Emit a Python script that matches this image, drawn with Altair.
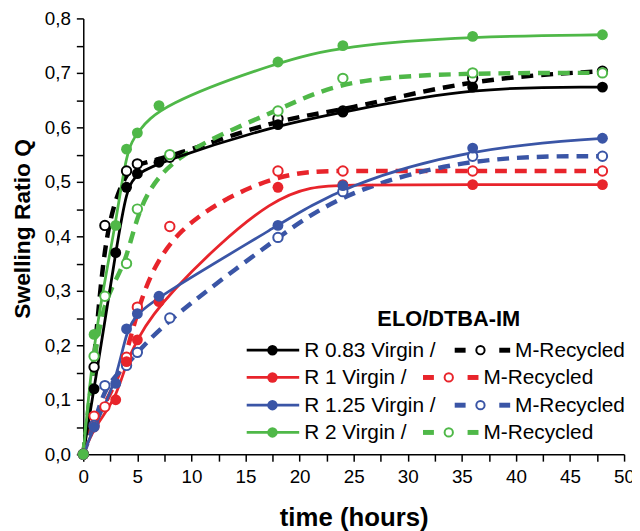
import altair as alt
import pandas as pd

# ---- data ----
t_virgin = [0, 1, 3, 4, 5, 7, 18, 24, 36, 48]
t_recycled = [0, 1, 2, 4, 5, 8, 18, 24, 36, 48]

series = ["R 0.83", "R 1", "R 1.25", "R 2"]
colors = ["#000000", "#E8242B", "#3A55A6", "#4FB848"]

q_virgin_083 = [0, 0.12, 0.37, 0.49, 0.515, 0.536, 0.605, 0.628, 0.674, 0.674]
q_virgin_1 = [0, 0.05, 0.10, 0.17, 0.21, 0.28, 0.49, 0.495, 0.495, 0.495]
q_virgin_125 = [0, 0.05, 0.13, 0.23, 0.258, 0.29, 0.42, 0.493, 0.562, 0.58]
q_virgin_2 = [0, 0.22, 0.42, 0.56, 0.59, 0.64, 0.72, 0.75, 0.767, 0.77]

q_recycled_083 = [0, 0.16, 0.42, 0.52, 0.533, 0.545, 0.616, 0.63, 0.69, 0.703]
q_recycled_1 = [0, 0.07, 0.087, 0.178, 0.27, 0.418, 0.52, 0.52, 0.52, 0.52]
q_recycled_125 = [0, 0.053, 0.126, 0.163, 0.187, 0.25, 0.398, 0.482, 0.547, 0.547]
q_recycled_2 = [0, 0.18, 0.29, 0.35, 0.45, 0.55, 0.63, 0.69, 0.70, 0.70]

x_ticks = [i * 2.5 for i in range(21)]
y_ticks = [round(i * 0.05, 2) for i in range(17)]

virgin = [q_virgin_083, q_virgin_1, q_virgin_125, q_virgin_2]
recycled = [q_recycled_083, q_recycled_1, q_recycled_125, q_recycled_2]

rows = []
for s, qv, qr in zip(series, virgin, recycled):
    for t, q in zip(t_virgin, qv):
        rows.append({"series": s, "kind": "Virgin", "t": t, "q": q})
    for t, q in zip(t_recycled, qr):
        rows.append({"series": s, "kind": "Recycled", "t": t, "q": q})
df = pd.DataFrame(rows)

FONT = "Liberation Sans"

x_enc = alt.X(
    "t:Q",
    scale=alt.Scale(domain=[0, 50], nice=False),
    axis=alt.Axis(
        values=x_ticks,
        labelExpr="datum.value % 5 == 0 ? format(datum.value, 'd') : ''",
        labelFlush=False,
        title="time (hours)",
        titleFontSize=26,
        titlePadding=18,
        labelPadding=7,
    ),
)
y_enc = alt.Y(
    "q:Q",
    scale=alt.Scale(domain=[0, 0.8], nice=False),
    axis=alt.Axis(
        values=y_ticks,
        labelExpr="round(datum.value * 100) % 10 == 0 ? replace(format(datum.value, '.1f'), '.', ',') : ''",
        labelFlush=False,
        title="Swelling Ratio Q",
        titleFontSize=23,
        titlePadding=10,
        titleY=212,
        labelPadding=6,
    ),
)
color_scale = alt.Scale(domain=series, range=colors)

base = alt.Chart(df).encode(x=x_enc, y=y_enc)

line_v = base.transform_filter(alt.datum.kind == "Virgin").mark_line(
    interpolate="basis", strokeWidth=2.8
).encode(color=alt.Color("series:N", scale=color_scale, legend=None))

line_r = base.transform_filter(alt.datum.kind == "Recycled").mark_line(
    interpolate="basis", strokeWidth=4.5, strokeDash=[12, 8]
).encode(color=alt.Color("series:N", scale=color_scale, legend=None))

pts_v = base.transform_filter(alt.datum.kind == "Virgin").mark_circle(
    size=120, opacity=1
).encode(color=alt.Color("series:N", scale=color_scale, legend=None))

pts_r = base.transform_filter(alt.datum.kind == "Recycled").mark_point(
    shape="circle", size=90, filled=False, fill="white", fillOpacity=1,
    strokeWidth=2, opacity=1
).encode(color=alt.Color("series:N", scale=color_scale, legend=None))

# ---- custom legend (pixel positions inside plot area) ----
dummy = pd.DataFrame({"d": [0]})
legend_layers = []
legend_layers.append(
    alt.Chart(dummy).mark_text(
        text="ELO/DTBA-IM", font=FONT, fontSize=22, fontWeight="bold",
        align="center", baseline="middle", color="black"
    ).encode(x=alt.value(369), y=alt.value(304))
)
row_y = [335, 362.5, 390.5, 418]
dash_start = [375, 343, 375, 343]
for s, c, yy, ds in zip(series, colors, row_y, dash_start):
    legend_layers.append(
        alt.Chart(dummy).mark_rule(color=c, strokeWidth=2.8).encode(
            x=alt.value(165), x2=alt.value(218), y=alt.value(yy))
    )
    legend_layers.append(
        alt.Chart(dummy).mark_circle(color=c, size=110, opacity=1).encode(
            x=alt.value(191), y=alt.value(yy))
    )
    legend_layers.append(
        alt.Chart(dummy).mark_text(
            text=f"{s} Virgin /", font=FONT, fontSize=21, align="left",
            baseline="middle", color="black"
        ).encode(x=alt.value(223), y=alt.value(yy + 1))
    )
    legend_layers.append(
        alt.Chart(dummy).mark_rule(color=c, strokeWidth=5).encode(
            x=alt.value(ds), x2=alt.value(ds + 11), y=alt.value(yy))
    )
    legend_layers.append(
        alt.Chart(dummy).mark_point(
            shape="circle", color=c, size=70, filled=False, fill="white",
            fillOpacity=1, strokeWidth=2, opacity=1
        ).encode(x=alt.value(ds + 26), y=alt.value(yy))
    )
    legend_layers.append(
        alt.Chart(dummy).mark_rule(color=c, strokeWidth=5).encode(
            x=alt.value(ds + 45), x2=alt.value(ds + 56), y=alt.value(yy))
    )
    legend_layers.append(
        alt.Chart(dummy).mark_text(
            text="M-Recycled", font=FONT, fontSize=21, align="left",
            baseline="middle", color="black"
        ).encode(x=alt.value(ds + 61), y=alt.value(yy + 1))
    )

chart = alt.layer(line_r, line_v, pts_r, pts_v, *legend_layers).properties(
    width=546,
    height=440,
    autosize=alt.AutoSizeParams(type="none"),
    padding={"left": 76, "top": 8, "right": 8, "bottom": 75},
).configure_view(stroke=None).configure_axis(
    grid=False,
    domainColor="black",
    domainWidth=1.5,
    tickColor="black",
    tickWidth=1.5,
    tickSize=7,
    labelFont=FONT,
    labelFontSize=19,
    labelColor="black",
    titleFont=FONT,
    titleFontWeight="bold",
    titleColor="black",
)

chart.save("out.html", embed_options={"renderer": "svg", "actions": False})
